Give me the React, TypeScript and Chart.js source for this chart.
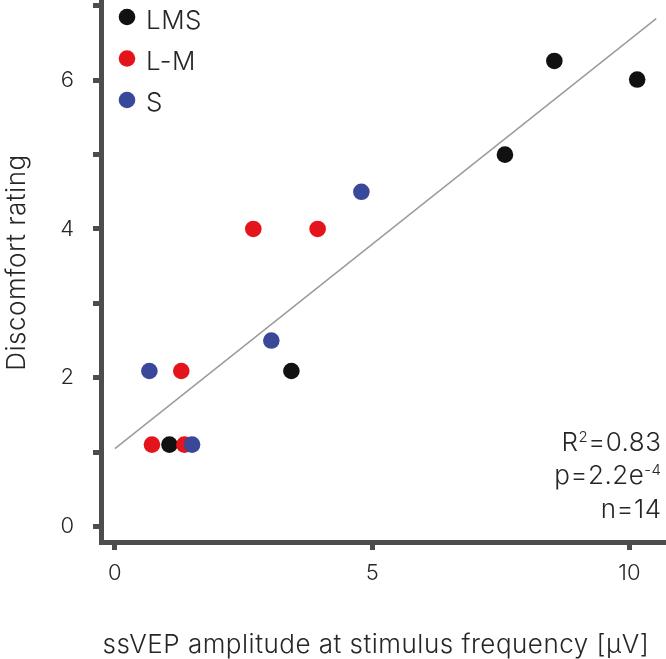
import React, { useEffect, useRef } from "react";
import { Chart, registerables } from "chart.js";

Chart.register(...registerables);

// series
const seriesNames = ["LMS", "L-M", "S"];
const seriesColors = ["#111111", "#e3141b", "#3a4899"];

const lmsX = [8.54, 10.15, 7.58, 3.43, 1.06];
const lmsY = [6.26, 6.01, 5.0, 2.09, 1.1];
const lmX = [2.69, 3.94, 1.29, 0.72, 1.35];
const lmY = [4.0, 4.0, 2.09, 1.1, 1.1];
const sX = [4.79, 3.04, 0.67, 1.5];
const sY = [4.5, 2.5, 2.09, 1.1];

// regression line end points
const fitX = [0, 10.52];
const fitY = [1.045, 6.83];

// axes
const xTicks = [0, 5, 10];
const xTickLabels = ["0", "5", "10"];
const yTicks = [0, 1, 2, 3, 4, 5, 6, 7];
const yTickLabels = ["0", "", "2", "", "4", "", "6", ""];

const xTitle = "ssVEP amplitude at stimulus frequency [μV]";
const yTitle = "Discomfort rating";

const statLines = [
  [{ t: "R" }, { t: "2", sup: true }, { t: "=0.83" }],
  [{ t: "p=2.2e" }, { t: "-4", sup: true }],
  [{ t: "n=14" }],
];

const FONT = "Inter";
const TEXT = "#262626";
const AXIS = "#4d4d4d";
const BIG = `300 26px ${FONT}`;
const SUP = `300 15px ${FONT}`;

const toPoints = (xs: number[], ys: number[]) => xs.map((x, i) => ({ x, y: ys[i] }));

// legend, stats and axis titles drawn on top of the chart
const overlay = {
  id: "overlay",
  afterDraw(chart: Chart) {
    const ctx = chart.ctx as any;
    ctx.save();
    ctx.textBaseline = "alphabetic";
    ctx.letterSpacing = "0.5px";

    // legend
    ctx.font = BIG;
    seriesNames.forEach((name, i) => {
      ctx.fillStyle = seriesColors[i];
      ctx.beginPath();
      ctx.arc(127, 17 + i * 41.5, 8.3, 0, Math.PI * 2);
      ctx.fill();
      ctx.fillStyle = TEXT;
      ctx.textAlign = "left";
      ctx.fillText(name, 146, 28.5 + i * 41);
    });

    // stats, right aligned
    ctx.textAlign = "left";
    statLines.forEach((segs, i) => {
      const base = 450.7 + i * 33.7;
      const widths = segs.map((s) => {
        ctx.font = s.sup ? SUP : BIG;
        return ctx.measureText(s.t).width;
      });
      let x = 661.5 - widths.reduce((a: number, b: number) => a + b, 0);
      segs.forEach((s, j) => {
        ctx.font = s.sup ? SUP : BIG;
        ctx.fillText(s.t, x, s.sup ? base - 9 : base);
        x += widths[j];
      });
    });

    // axis titles
    ctx.font = BIG;
    ctx.textAlign = "center";
    ctx.fillText(xTitle, 376, 653);
    ctx.translate(25, 262.5);
    ctx.rotate(-Math.PI / 2);
    ctx.fillText(yTitle, 0, 0);
    ctx.restore();
  },
};

const App: React.FC = () => {
  const canvasRef = useRef<HTMLCanvasElement | null>(null);

  useEffect(() => {
    if (!canvasRef.current) return;

    const tickFont = { family: FONT, size: 22, weight: 300 as const };

    const chart = new Chart(canvasRef.current, {
      type: "scatter",
      data: {
        datasets: [
          {
            label: seriesNames[0],
            data: toPoints(lmsX, lmsY),
            backgroundColor: seriesColors[0],
            pointRadius: 8.3,
            pointBorderWidth: 0,
            order: 3,
          },
          {
            label: seriesNames[1],
            data: toPoints(lmX, lmY),
            backgroundColor: seriesColors[1],
            pointRadius: 8.3,
            pointBorderWidth: 0,
            order: 2,
          },
          {
            label: seriesNames[2],
            data: toPoints(sX, sY),
            backgroundColor: seriesColors[2],
            pointRadius: 8.3,
            pointBorderWidth: 0,
            order: 1,
          },
          {
            type: "line",
            label: "fit",
            data: toPoints(fitX, fitY),
            borderColor: "#9b9b9b",
            borderWidth: 1.5,
            pointRadius: 0,
            fill: false,
            order: 4,
          },
        ],
      },
      options: {
        animation: false,
        responsive: true,
        maintainAspectRatio: false,
        layout: { padding: 0, autoPadding: false },
        plugins: {
          legend: { display: false },
          tooltip: { enabled: false },
        },
        scales: {
          x: {
            type: "linear",
            min: -0.27,
            max: 10.71,
            afterBuildTicks: (s: any) => {
              s.ticks = xTicks.map((v) => ({ value: v }));
            },
            afterFit: (s: any) => {
              s.height = 117;
              s.paddingLeft = 0;
              s.paddingRight = 0;
            },
            grid: {
              drawOnChartArea: false,
              drawTicks: true,
              tickLength: 8,
              tickWidth: 5,
              tickColor: AXIS,
            },
            border: { display: true, width: 5, color: AXIS },
            ticks: {
              color: TEXT,
              font: tickFont,
              padding: 10,
              callback: (_v: any, i: number) => xTickLabels[i],
            },
          },
          y: {
            type: "linear",
            min: -0.21,
            max: 7.08,
            afterBuildTicks: (s: any) => {
              s.ticks = yTicks.map((v) => ({ value: v }));
            },
            afterFit: (s: any) => {
              s.width = 101;
              s.paddingTop = 0;
              s.paddingBottom = 0;
            },
            grid: {
              drawOnChartArea: false,
              drawTicks: true,
              tickLength: 8,
              tickWidth: 5,
              tickColor: AXIS,
            },
            border: { display: true, width: 5, color: AXIS },
            ticks: {
              color: TEXT,
              font: tickFont,
              padding: 19,
              callback: (_v: any, i: number) => yTickLabels[i],
            },
          },
        },
      },
      plugins: [overlay],
    });

    return () => chart.destroy();
  }, []);

  return (
    <div style={{ position: "fixed", left: 0, top: 0, width: 666, height: 659, background: "#fff" }}>
      <canvas ref={canvasRef}></canvas>
    </div>
  );
};

export default App;
